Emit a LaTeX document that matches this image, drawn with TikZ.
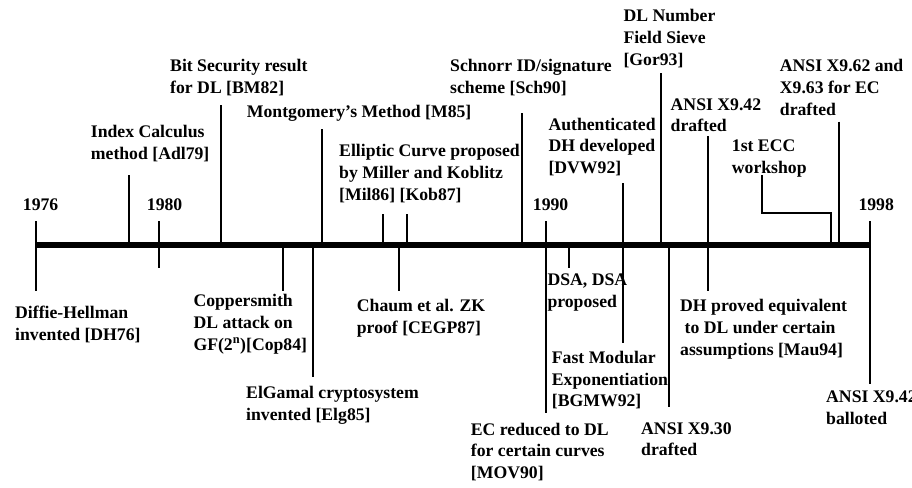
\documentclass[tikz,border=0pt]{standalone}
\usepackage{fontspec}
\setmainfont{Liberation Serif}
\newcommand{\Lab}[1]{\vtop{\halign{##\hfil\cr#1\crcr}}}
\begin{document}
\begin{tikzpicture}[x=1pt,y=-1pt,
  lbl/.style={anchor=base west,inner sep=0pt,font=\fontsize{17.7}{21.7}\selectfont\bfseries},
  axisline/.style={line width=6pt},
  tickline/.style={line width=2pt}]
\useasboundingbox (0,0) rectangle (912,487);
% axis
\coordinate (axL) at (36,244.7);
\coordinate (axR) at (871,244.7);
\draw[axisline] (axL) -- (axR);
% ticks
\foreach \n/\x/\a/\b in {t76/36/221/290.7, t80/159/221/267.5, adl/129/175/244.7,
  bm/221/105/244.7, mfe/322/129/244.7, mil/383/214/244.7, kob/407/214/244.7,
  cop/283/244.7/291, elg/313.3/244.7/377, ceg/399/244.7/291, sch/521.7/113.3/244.7,
  t90/546/221/413, dvw/623/183/343, gor/660.7/73/244.7, dsa/569/244.7/268,
  xtt/669/244.7/407, xfd/708.3/136/291, xsx/839/121.5/244.7, t98/870/221/384}{
  \coordinate (\n-a) at (\x,\a);
  \coordinate (\n-b) at (\x,\b);
  \draw[tickline] (\n-a) -- (\n-b);
}
\coordinate (ecc-a) at (762.3,175);
\coordinate (ecc-m) at (762.3,213.3);
\coordinate (ecc-n) at (831,213.3);
\coordinate (ecc-b) at (831,244.7);
\draw[tickline] (ecc-a) -- (ecc-m) -- (ecc-n) -- (ecc-b);
% labels
\node[lbl] (y76) at (22.7,210.5) {1976};
\node[lbl] (y80) at (146.7,210.5) {1980};
\node[lbl] (y90) at (532.7,210.5) {1990};
\node[lbl] (y98) at (858.3,210.5) {1998};
\node[lbl] (dh) at (15,318.3) {\Lab{Diffie-Hellman\cr invented [DH76]}};
\node[lbl] (idx) at (90.7,137.3) {\Lab{Index Calculus\cr method [Adl79]}};
\node[lbl] (bmr) at (170,71.7) {\Lab{Bit Security result\cr for DL [BM82]}};
\node[lbl] (mont) at (246.7,117.3) {Montgomery’s Method [M85]};
\node[lbl] (ell) at (339,156.7) {\Lab{Elliptic Curve proposed\cr by Miller and Koblitz\cr [Mil86] [Kob87]}};
\node[lbl] (copl) at (193.3,306.7) {\Lab{Coppersmith\cr DL attack on\cr GF(2\textsuperscript{n})[Cop84]}};
\node[lbl] (elgl) at (246,398.3) {\Lab{ElGamal cryptosystem\cr invented [Elg85]}};
\node[lbl] (chaum) at (356.7,311.7) {\Lab{Chaum et al. ZK\cr proof [CEGP87]}};
\node[lbl] (schl) at (450,71.7) {\Lab{Schnorr ID/signature\cr scheme [Sch90]}};
\node[lbl] (auth) at (548.3,130) {\Lab{Authenticated\cr DH developed\cr [DVW92]}};
\node[lbl] (nfs) at (623.3,21.7) {\Lab{DL Number\cr Field Sieve\cr [Gor93]}};
\node[lbl] (xfdl) at (670.5,110) {\Lab{ANSI X9.42\cr drafted}};
\node[lbl] (eccl) at (731.7,151.7) {\Lab{1st ECC\cr workshop}};
\node[lbl] (xsxl) at (779.7,71.7) {\Lab{ANSI X9.62 and\cr X9.63 for EC\cr drafted}};
\node[lbl] (dsal) at (547.3,285.5) {\Lab{DSA, DSA\cr proposed}};
\node[lbl] (mau) at (680,311.7) {\Lab{DH proved equivalent\cr \kern4.4pt to DL under certain\cr assumptions [Mau94]}};
\node[lbl] (fme) at (551.7,363.3) {\Lab{Fast Modular\cr Exponentiation\cr [BGMW92]}};
\node[lbl] (mov) at (470.7,435) {\Lab{EC reduced to DL\cr for certain curves\cr [MOV90]}};
\node[lbl] (xttl) at (641,434) {\Lab{ANSI X9.30\cr drafted}};
\node[lbl] (xbal) at (826,402.7) {\Lab{ANSI X9.42\cr balloted}};
\end{tikzpicture}
\end{document}
